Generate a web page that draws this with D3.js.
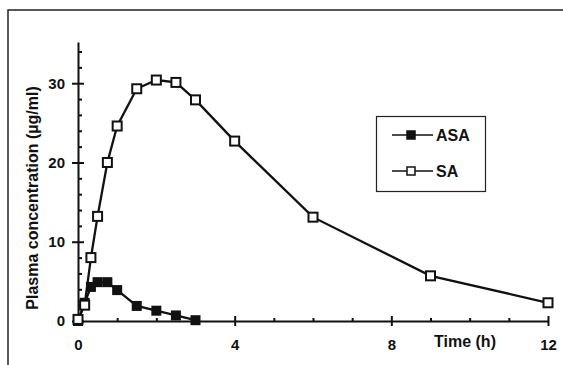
<!DOCTYPE html>
<html lang="en">
    <head>
        <meta charset="utf-8">
        <title>Plasma concentration ASA / SA</title>
        <script type="text/javascript" src="https://d3js.org/d3.v7.min.js"></script>
        <style type="text/css">
            body { margin: 0; background: #fff; }
            text { font-family: "Liberation Sans", Arial, sans-serif; font-weight: bold; fill: #111; }
        </style>
    </head>
    <body>
        <script type="text/javascript">

        // Data
        const timesSA = [0, 0.17, 0.33, 0.5, 0.75, 1, 1.5, 2, 2.5, 3, 4, 6, 9, 12];
        const valuesSA = [0.2, 2.0, 8.0, 13.2, 20.0, 24.6, 29.3, 30.4, 30.1, 27.9, 22.7, 13.1, 5.7, 2.3];
        const timesASA = [0, 0.17, 0.33, 0.5, 0.75, 1, 1.5, 2, 2.5, 3];
        const valuesASA = [0, 2.3, 4.3, 4.9, 4.9, 3.9, 1.9, 1.3, 0.7, 0.1];
        const xTickLabels = [0, 4, 8, 12];
        const yTickLabels = [0, 10, 20, 30];
        const seriesNames = ["ASA", "SA"];

        const width = 563;
        const height = 365;

        const sa = timesSA.map((t, i) => ({t: t, v: valuesSA[i]}));
        const asa = timesASA.map((t, i) => ({t: t, v: valuesASA[i]}));

        // Scales
        const xScale = d3.scaleLinear().domain([0, 12]).range([78, 548]);
        const yScale = d3.scaleLinear().domain([0, 35.2]).range([321, 42]);

        const svg = d3.select("body")
                    .append("svg")
                    .attr("width", width)
                    .attr("height", height);

        // Frame (top and left edges)
        svg.append("path")
            .attr("d", "M8,365 V10 H563")
            .attr("fill", "none")
            .attr("stroke", "#222")
            .attr("stroke-width", 1.5);

        // Y axis
        const yMinor = d3.range(0, 35, 2).filter(d => d % 10 !== 0);
        svg.append("g")
            .attr("transform", "translate(" + xScale(0) + ",0)")
            .call(d3.axisRight(yScale).tickValues(yMinor).tickSize(4).tickFormat(""))
            .call(g => g.select(".domain").remove());
        svg.append("g")
            .attr("transform", "translate(" + xScale(0) + ",0)")
            .call(d3.axisRight(yScale).tickValues(yTickLabels).tickSize(6).tickFormat(""))
            .call(g => g.select(".domain").remove());
        svg.append("g")
            .attr("transform", "translate(" + xScale(0) + ",0)")
            .call(d3.axisLeft(yScale).tickValues(yTickLabels).tickSize(6).tickPadding(7).tickSizeOuter(0))
            .call(g => g.selectAll("text").attr("font-size", 15).style("font-family", "Liberation Sans, Arial, sans-serif"));

        // X axis
        const xMinor = d3.range(1, 12).filter(d => d % 4 !== 0);
        svg.append("g")
            .attr("transform", "translate(0," + yScale(0) + ")")
            .call(d3.axisTop(xScale).tickValues(xMinor).tickSize(3).tickFormat(""))
            .call(g => g.select(".domain").remove());
        svg.append("g")
            .attr("transform", "translate(0," + yScale(0) + ")")
            .call(d3.axisTop(xScale).tickValues(xTickLabels.slice(1)).tickSize(5).tickFormat(""))
            .call(g => g.select(".domain").remove());
        svg.append("g")
            .attr("transform", "translate(0," + yScale(0) + ")")
            .call(d3.axisBottom(xScale).tickValues(xTickLabels).tickSize(5).tickPadding(13).tickSizeOuter(0))
            .call(g => g.selectAll("text").attr("font-size", 15).style("font-family", "Liberation Sans, Arial, sans-serif"));

        svg.selectAll(".domain, .tick line").attr("stroke", "#111").attr("stroke-width", 2);

        // Axis titles
        svg.append("text")
            .attr("x", 465)
            .attr("y", 347)
            .attr("text-anchor", "middle")
            .attr("font-size", 16)
            .text("Time (h)");

        svg.append("text")
            .attr("transform", "translate(38,198) rotate(-90)")
            .attr("text-anchor", "middle")
            .attr("font-size", 16)
            .text("Plasma concentration (µg/ml)");

        // Lines
        const line = d3.line().x(d => xScale(d.t)).y(d => yScale(d.v));

        svg.append("path")
            .datum(asa)
            .attr("d", line)
            .attr("fill", "none")
            .attr("stroke", "#111")
            .attr("stroke-width", 2.3);

        svg.selectAll(".asa")
            .data(asa)
            .enter()
            .append("rect")
            .attr("class", "asa")
            .attr("x", d => xScale(d.t) - 5)
            .attr("y", d => yScale(d.v) - 5)
            .attr("width", 10)
            .attr("height", 10)
            .attr("fill", "#111");

        svg.append("path")
            .datum(sa)
            .attr("d", line)
            .attr("fill", "none")
            .attr("stroke", "#111")
            .attr("stroke-width", 2.3);

        svg.selectAll(".sa")
            .data(sa)
            .enter()
            .append("rect")
            .attr("class", "sa")
            .attr("x", d => xScale(d.t) - 4.5)
            .attr("y", d => yScale(d.v) - 4.5)
            .attr("width", 9)
            .attr("height", 9)
            .attr("fill", "#fff")
            .attr("stroke", "#111")
            .attr("stroke-width", 2);

        // Legend
        const legend = svg.append("g");
        legend.append("rect")
            .attr("x", 376.5)
            .attr("y", 116.5)
            .attr("width", 109)
            .attr("height", 75)
            .attr("fill", "#fff")
            .attr("stroke", "#222")
            .attr("stroke-width", 1.2);

        const rows = legend.selectAll(".row")
            .data(seriesNames)
            .enter()
            .append("g")
            .attr("class", "row")
            .attr("transform", (d, i) => "translate(0," + (135 + i * 36) + ")");

        rows.append("line")
            .attr("x1", 392)
            .attr("x2", 433)
            .attr("stroke", "#111")
            .attr("stroke-width", 1.5);

        rows.append("rect")
            .attr("x", 407)
            .attr("y", -4)
            .attr("width", 8)
            .attr("height", 8)
            .attr("fill", d => d === "ASA" ? "#111" : "#fff")
            .attr("stroke", "#111")
            .attr("stroke-width", 1.5);

        rows.append("text")
            .attr("x", 436)
            .attr("y", 6)
            .attr("font-size", 16)
            .text(d => d);

        </script>
    </body>
</html>
